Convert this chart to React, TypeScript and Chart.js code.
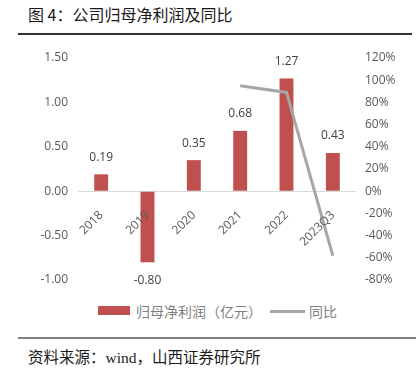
import React, { useEffect, useRef } from 'react';
import { Chart, registerables } from 'chart.js';

Chart.register(...registerables);

const categories = ['2018', '2019', '2020', '2021', '2022', '2023Q3'];
const profit = [0.19, -0.8, 0.35, 0.68, 1.27, 0.43];
const yoy: (number | null)[] = [null, null, null, 95, 89, -58];
const leftMin = -1;
const leftMax = 1.5;
const leftStep = 0.5;
const rightMin = -80;
const rightMax = 120;
const rightStep = 20;

const FONT = '"Open Sans", "Noto Sans CJK SC", sans-serif';

const barLabels = {
  id: 'barLabels',
  afterDatasetsDraw(chart: any) {
    const meta = chart.getDatasetMeta(1);
    const ctx = chart.ctx;
    ctx.save();
    ctx.font = `12px ${FONT}`;
    ctx.fillStyle = '#404040';
    ctx.textAlign = 'center';
    ctx.textBaseline = 'middle';
    meta.data.forEach((bar: any, i: number) => {
      const v = profit[i];
      const y = v >= 0 ? bar.y - 17 : bar.y + 18;
      ctx.fillText(v.toFixed(2), bar.x, y);
    });
    ctx.restore();
  },
};

export default function App() {
  const ref = useRef<HTMLCanvasElement>(null);

  useEffect(() => {
    if (!ref.current) return;
    const chart = new Chart(ref.current, {
      type: 'bar',
      data: {
        labels: categories,
        datasets: [
          {
            type: 'line',
            label: '同比',
            data: yoy,
            yAxisID: 'y1',
            borderColor: '#A6A6A6',
            backgroundColor: '#A6A6A6',
            borderWidth: 3,
            pointRadius: 0,
            tension: 0,
            spanGaps: false,
          } as any,
          {
            type: 'bar',
            label: '归母净利润（亿元）',
            data: profit,
            yAxisID: 'y',
            backgroundColor: '#C0504D',
            categoryPercentage: 1,
            barPercentage: 0.3,
          },
        ],
      },
      options: {
        responsive: false,
        animation: false,
        layout: { padding: { top: 18, bottom: 20, left: 0, right: 0 } },
        plugins: {
          legend: { display: false },
          tooltip: { enabled: false },
        },
        scales: {
          x: {
            position: { y: 0 } as any,
            grid: { display: false },
            border: { display: false },
            ticks: {
              z: 1,
              minRotation: 45,
              maxRotation: 45,
              color: '#595959',
              font: { size: 12, family: FONT },
              padding: 9,
            } as any,
          },
          y: {
            position: 'left',
            min: leftMin,
            max: leftMax,
            border: { display: false },
            grid: {
              drawTicks: false,
              color: (c: any) => (c.tick && c.tick.value === 0 ? '#D9D9D9' : 'transparent'),
              lineWidth: 1,
            },
            ticks: {
              stepSize: leftStep,
              padding: 10,
              color: '#595959',
              font: { size: 12, family: FONT },
              callback: (v: any) => Number(v).toFixed(2),
            },
            afterFit: (s: any) => {
              s.width = 78;
            },
          },
          y1: {
            position: 'right',
            min: rightMin,
            max: rightMax,
            border: { display: false },
            grid: { display: false, drawTicks: false },
            ticks: {
              stepSize: rightStep,
              padding: 9,
              color: '#595959',
              font: { size: 12, family: FONT },
              callback: (v: any) => `${v}%`,
            },
            afterFit: (s: any) => {
              s.width = 60;
            },
          },
        },
      },
      plugins: [barLabels],
    });
    return () => chart.destroy();
  }, []);

  const cjk = '"Noto Sans CJK SC", sans-serif';

  return (
    <div style={{ position: 'absolute', left: 0, top: 0, width: 416, height: 375, background: '#fff', overflow: 'hidden' }}>
      <div style={{ position: 'absolute', left: 28, top: 3, fontFamily: cjk, fontSize: 16, lineHeight: '22px', color: '#1a1a1a', whiteSpace: 'pre' }}>
        图 4：公司归母净利润及同比
      </div>
      <div style={{ position: 'absolute', left: 18, top: 33, width: 394, height: 1.5, background: '#333' }} />
      <canvas ref={ref} width={416} height={260} style={{ position: 'absolute', left: 0, top: 40, display: 'block' }} />
      <div style={{ position: 'absolute', left: 98, top: 306, width: 32, height: 9, background: '#C0504D' }} />
      <div style={{ position: 'absolute', left: 136, top: 301, fontFamily: cjk, fontSize: 14, lineHeight: '20px', color: '#7F7F7F', whiteSpace: 'nowrap' }}>
        归母净利润（亿元）
      </div>
      <div style={{ position: 'absolute', left: 270, top: 310, width: 35, height: 3, background: '#A6A6A6' }} />
      <div style={{ position: 'absolute', left: 309, top: 301, fontFamily: cjk, fontSize: 14, lineHeight: '20px', color: '#7F7F7F', whiteSpace: 'nowrap' }}>
        同比
      </div>
      <div style={{ position: 'absolute', left: 18, top: 337, width: 398, height: 1.5, background: '#808080' }} />
      <div style={{ position: 'absolute', left: 28, top: 347, fontFamily: '"Liberation Serif", "Noto Sans CJK SC", serif', fontSize: 15.5, lineHeight: '22px', color: '#1a1a1a', whiteSpace: 'nowrap' }}>
        资料来源：wind，山西证券研究所
      </div>
    </div>
  );
}
